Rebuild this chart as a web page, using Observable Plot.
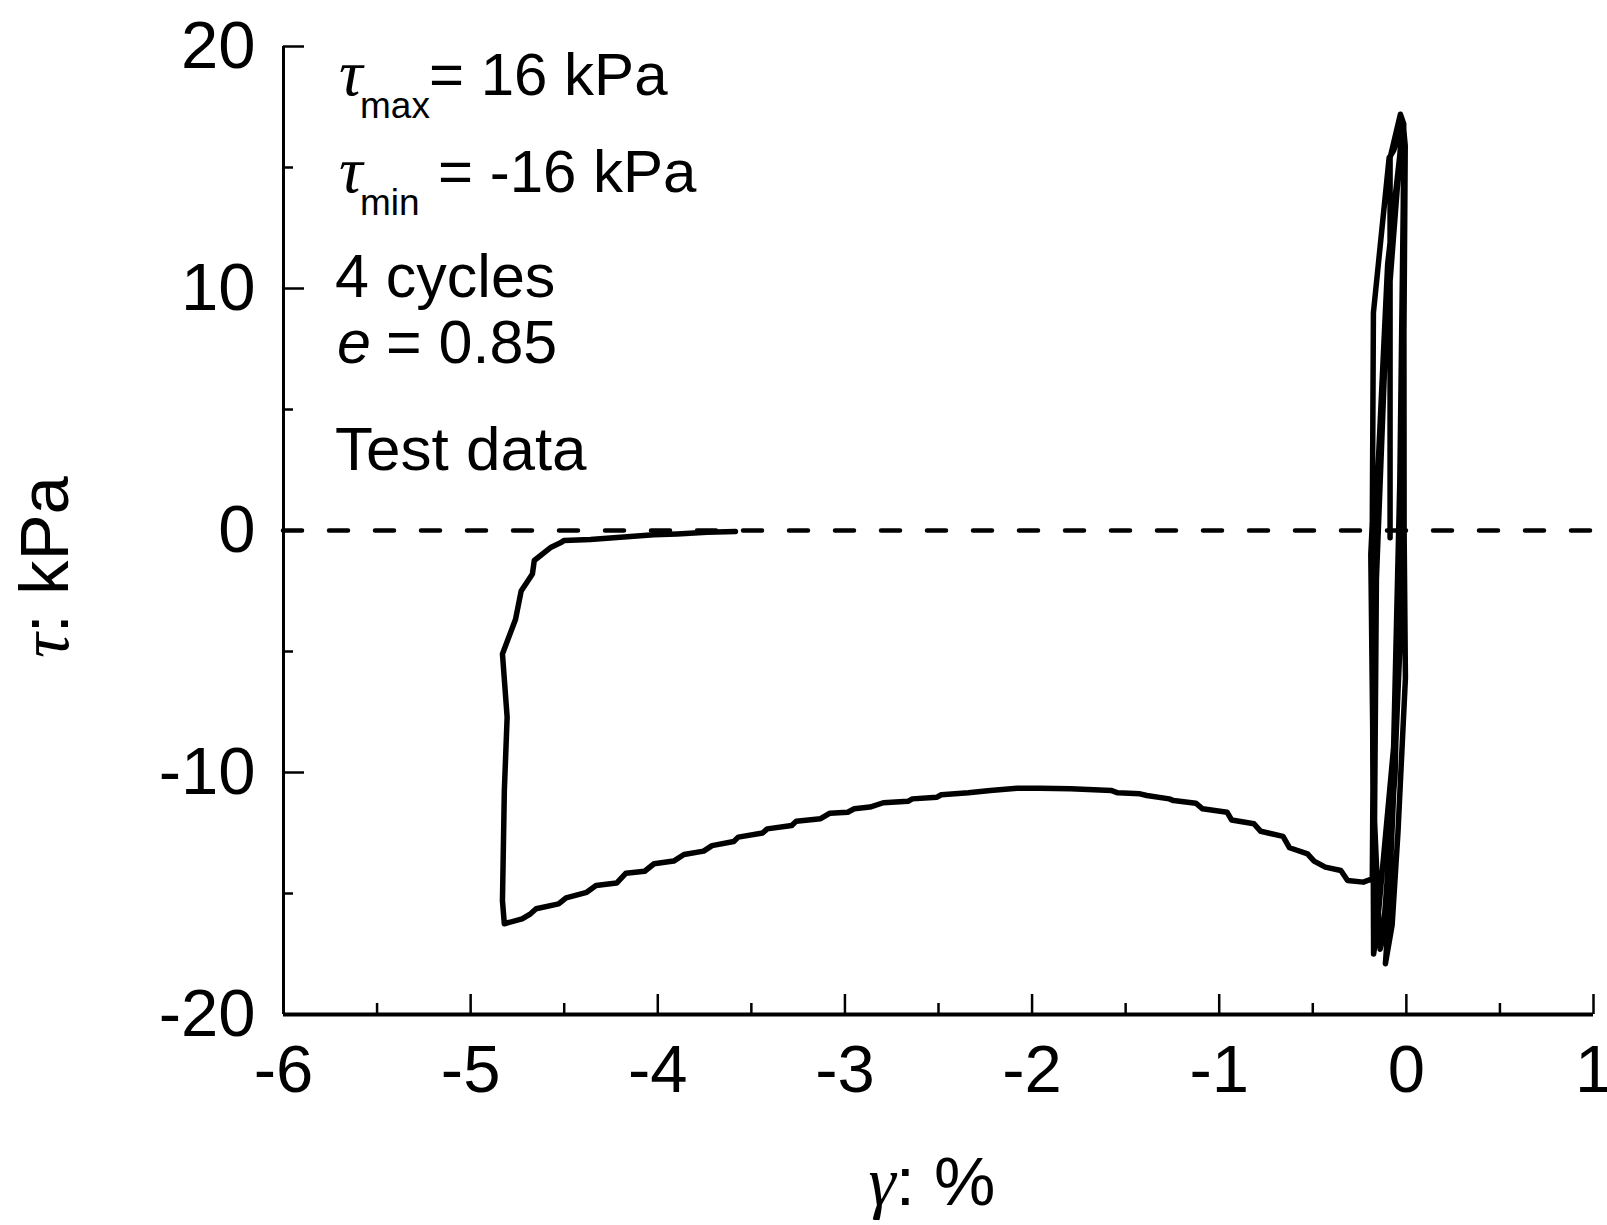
<!DOCTYPE html>
<html>
<head>
<meta charset="utf-8">
<script src="https://cdn.jsdelivr.net/npm/d3@7"></script>
<script src="https://cdn.jsdelivr.net/npm/@observablehq/plot@0.6"></script>
<style>
  html, body { margin: 0; padding: 0; background: #fff; }
  svg { display: block; }
</style>
</head>
<body>
<div id="chart"></div>
<script>
// ---- Tick values ----
const xTicks = [-6, -5, -4, -3, -2, -1, 0, 1];
const xMinorTicks = [-5.5, -4.5, -3.5, -2.5, -1.5, -0.5, 0.5];
const yTicks = [-20, -10, 0, 10, 20];
const yMinorTicks = [-15, -5, 5, 15];

// ---- Cyclic part (strain %, shear stress kPa) ----
const cycleGamma = [-0.087, -0.087, -0.032, -0.014, -0.012, -0.005, -0.045, -0.076, -0.112, -0.100,
  -0.023, -0.006, -0.018, -0.068, -0.092, -0.176, -0.182, -0.190, -0.180, -0.175,
  -0.158, -0.148, -0.068, -0.035, -0.012, -0.025, -0.110, -0.160, -0.170, -0.140,
  -0.125, -0.060, -0.030, -0.015, -0.022, -0.100, -0.155, -0.178, -0.182];
const cycleTau = [-0.3, 15.4, 17.2, 16.8, 0.0, -6.1, -12.5, -16.3, -17.9, -16.6,
  -2.75, 15.9, 16.9, 15.7, 15.4, 9.0, 0.3, -1.0, -8.0, -17.5,
  -16.6, -15.7, -8.95, 2.0, 16.2, 16.5, 8.0, -2.0, -12.0, -17.3,
  -16.8, -10.0, 0.0, 15.0, 16.4, 11.0, 2.0, -10.0, -14.39];

// ---- Failure branch ----
const failGamma = [-0.23, -0.314, -0.35, -0.433, -0.493, -0.528, -0.624, -0.659, -0.778, -0.814,
  -0.934, -0.958, -1.089, -1.125, -1.244, -1.267, -1.387, -1.423, -1.542, -1.578,
  -1.793, -1.96, -2.08, -2.223, -2.34, -2.485, -2.508, -2.64, -2.663, -2.795,
  -2.866, -2.95, -2.985, -3.08, -3.13, -3.26, -3.284, -3.415, -3.44, -3.57,
  -3.594, -3.71, -3.755, -3.86, -3.915, -4.02, -4.07, -4.17, -4.22, -4.33,
  -4.38, -4.49, -4.53, -4.65, -4.68, -4.725, -4.82, -4.83, -4.82, -4.805,
  -4.83, -4.76, -4.73, -4.67, -4.66, -4.57, -4.52, -4.50, -4.36, -4.20,
  -4.022, -3.897, -3.737, -3.585];
const failTau = [-14.53, -14.46, -14.05, -13.91, -13.66, -13.36, -13.11, -12.64, -12.43, -12.12,
  -11.96, -11.64, -11.5, -11.27, -11.16, -11.09, -10.95, -10.88, -10.84, -10.74,
  -10.67, -10.65, -10.65, -10.74, -10.84, -10.92, -11.02, -11.09, -11.19, -11.25,
  -11.43, -11.5, -11.64, -11.68, -11.91, -12.01, -12.19, -12.33, -12.5, -12.67,
  -12.85, -13.02, -13.25, -13.39, -13.66, -13.77, -14.08, -14.16, -14.57, -14.67,
  -14.95, -15.18, -15.43, -15.63, -15.84, -16.05, -16.25, -15.3, -10.76, -7.71,
  -5.1, -3.67, -2.5, -1.8, -1.24, -0.69, -0.51, -0.41, -0.37, -0.28,
  -0.18, -0.14, -0.07, -0.04];

const annotationLines = ["= 16 kPa", "= -16 kPa", "4 cycles", "= 0.85", "Test data"];

const path = [
  ...cycleGamma.map((g, i) => ({gamma: g, tau: cycleTau[i]})),
  ...failGamma.map((g, i) => ({gamma: g, tau: failTau[i]}))
];

const W = 1607, H = 1225;
const mL = 283, mR = 14, mT = 46, mB = 211;
const plotW = W - mL - mR, plotH = H - mT - mB;
const SANS = "'Liberation Sans', Arial, Helvetica, sans-serif";
const SERIF = "'Liberation Serif', 'Times New Roman', serif";

const chart = Plot.plot({
  width: W, height: H,
  marginLeft: mL, marginRight: mR, marginTop: mT, marginBottom: mB,
  style: {fontFamily: SANS, fontSize: "67px", background: "#fff", color: "#000", overflow: "visible"},
  x: {domain: [-6, 1]},
  y: {domain: [-20, 20]},
  marks: [
    Plot.ruleY([0], {stroke: "#000", strokeWidth: 4.5, strokeDasharray: "19,27", strokeLinecap: "round"}),
    Plot.line(path, {x: "gamma", y: "tau", stroke: "#000", strokeWidth: 5.5, strokeLinejoin: "round", strokeLinecap: "round"}),
    Plot.tickX(xTicks, {x: d => d, stroke: "#000", strokeWidth: 2.5, insetTop: plotH - 20}),
    Plot.tickX(xMinorTicks, {x: d => d, stroke: "#000", strokeWidth: 2.5, insetTop: plotH - 11}),
    Plot.tickY(yTicks, {y: d => d, stroke: "#000", strokeWidth: 2.5, insetRight: plotW - 21}),
    Plot.tickY(yMinorTicks, {y: d => d, stroke: "#000", strokeWidth: 2.5, insetRight: plotW - 10}),
    Plot.ruleX([-6], {stroke: "#000", strokeWidth: 3}),
    Plot.ruleY([-20], {stroke: "#000", strokeWidth: 4}),
    Plot.axisX(xTicks, {tickSize: 0, tickPadding: 30, label: null, fontSize: 67, tickFormat: d => String(d)}),
    Plot.axisY(yTicks, {tickSize: 0, tickPadding: 28, label: null, fontSize: 67, tickFormat: d => String(d)})
  ]
});

document.getElementById("chart").appendChild(chart);

const svg = d3.select(chart);
const g = svg.append("g").attr("fill", "#000");

function addText(x, y, str, opts = {}) {
  return g.append("text")
    .attr("x", x).attr("y", y)
    .attr("font-family", opts.family || SANS)
    .attr("font-size", opts.size || 61)
    .attr("font-style", opts.italic ? "italic" : "normal")
    .attr("text-anchor", opts.anchor || "start")
    .text(str);
}

// Annotations
addText(339, 95, "τ", {family: SERIF, italic: true, size: 66});
addText(360, 118, "max", {size: 37});
addText(429, 95, annotationLines[0], {size: 60});
addText(339, 192, "τ", {family: SERIF, italic: true, size: 66});
addText(360, 215, "min", {size: 37});
addText(438, 192, annotationLines[1], {size: 60});
addText(335, 297, annotationLines[2]);
addText(337, 363, "e", {italic: true});
addText(386, 363, annotationLines[3]);
addText(335, 470, annotationLines[4], {size: 62});

// Axis titles
const xl = g.append("text").attr("x", 932).attr("y", 1205).attr("text-anchor", "middle")
  .attr("font-size", 69).attr("font-family", SANS);
xl.append("tspan").attr("font-family", SERIF).attr("font-style", "italic").text("γ");
xl.append("tspan").text(": %");

const yl = g.append("text").attr("transform", "translate(68,567) rotate(-90)").attr("text-anchor", "middle")
  .attr("font-size", 69).attr("font-family", SANS);
yl.append("tspan").attr("font-family", SERIF).attr("font-style", "italic").text("τ");
yl.append("tspan").text(": kPa");
</script>
</body>
</html>
